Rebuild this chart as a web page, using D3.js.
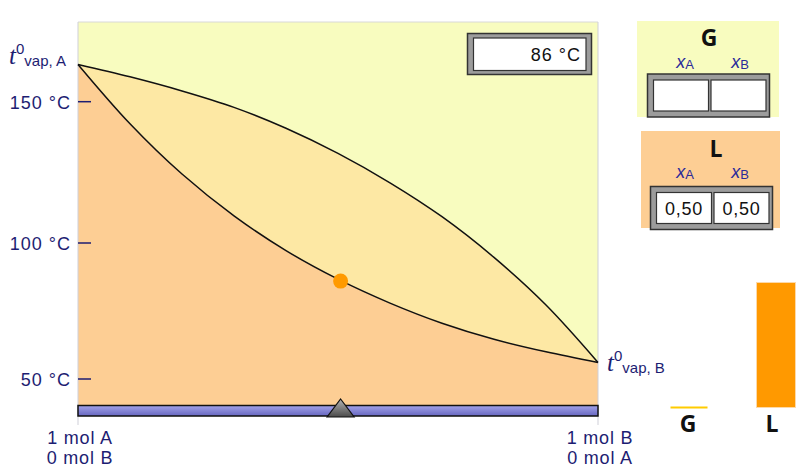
<!DOCTYPE html>
<html><head><meta charset="utf-8">
<script src="https://cdn.jsdelivr.net/npm/d3@7"></script>
<style>
html,body{margin:0;padding:0;background:#fff;}
svg{display:block;font-family:"Liberation Sans",Arial,sans-serif;}
</style></head>
<body>
<svg id="c" width="796" height="470"></svg>
<script>
// ---- data ----
const xB        = [0, 0.1, 0.2, 0.3, 0.4, 0.5, 0.6, 0.7, 0.8, 0.9, 1];
const bubbleT   = [163.2, 142.2, 124.4, 109.6, 97.2, 86.7, 77.9, 70.5, 64.6, 60.0, 56.1];
const dewT      = [163.2, 158.8, 153.8, 148.0, 140.6, 131.7, 121.3, 109.3, 94.7, 77.2, 56.1];
const tempTicks = [50, 100, 150];
const currentT  = 86;
const currentXB = 0.505;
const gasX      = ["", ""];
const liqX      = ["0,50", "0,50"];
const phaseNames   = ["G", "L"];
const phaseAmounts = [0, 1];
const endLabelsA = ["1 mol A", "0 mol B"];
const endLabelsB = ["1 mol B", "0 mol A"];

// ---- layout ----
const svg = d3.select("#c");
const L = 78, R = 598, T = 22, B = 405;
const navy = "#1d1d72";
const x = d3.scaleLinear().domain([0, 1]).range([L, R]);
const y = d3.scaleLinear().domain([50, 100, 150]).range([379, 243, 101.7]);

const defs = svg.append("defs");
const gb = defs.append("linearGradient").attr("id","barG").attr("x1",0).attr("y1",0).attr("x2",0).attr("y2",1);
gb.append("stop").attr("offset","0%").attr("stop-color","#a3a3ea");
gb.append("stop").attr("offset","100%").attr("stop-color","#6767c0");
const gt = defs.append("linearGradient").attr("id","thumbG").attr("x1",0).attr("y1",0).attr("x2",0).attr("y2",1);
gt.append("stop").attr("offset","0%").attr("stop-color","#b5b5b5");
gt.append("stop").attr("offset","100%").attr("stop-color","#4a4a4a");

// background regions
svg.append("rect").attr("x",L).attr("y",T).attr("width",R-L).attr("height",B-T).attr("fill","#f8fcbf");
const pts = xB.map((v,i)=>({x:v, b:bubbleT[i], d:dewT[i]}));
const curve = d3.curveCatmullRom.alpha(0.5);
svg.append("path").datum(pts)
  .attr("d", d3.area().curve(curve).x(d=>x(d.x)).y0(d=>y(d.b)).y1(d=>y(d.d)))
  .attr("fill","#fde8a4");
svg.append("path").datum(pts)
  .attr("d", d3.area().curve(curve).x(d=>x(d.x)).y0(B).y1(d=>y(d.b)))
  .attr("fill","#fdce94");

// frame lines
svg.append("line").attr("x1",L).attr("x2",R).attr("y1",T).attr("y2",T).attr("stroke","#d8d8d8");
svg.append("line").attr("x1",L).attr("x2",L).attr("y1",T).attr("y2",425).attr("stroke","#cfcfd8");
svg.append("line").attr("x1",R).attr("x2",R).attr("y1",T).attr("y2",425).attr("stroke","#cfcfd8");

// curves
svg.append("path").datum(pts).attr("fill","none").attr("stroke","#111").attr("stroke-width",1.5)
  .attr("d", d3.line().curve(curve).x(d=>x(d.x)).y(d=>y(d.b)));
svg.append("path").datum(pts).attr("fill","none").attr("stroke","#111").attr("stroke-width",1.5)
  .attr("d", d3.line().curve(curve).x(d=>x(d.x)).y(d=>y(d.d)));

// y ticks
const yt = svg.append("g");
tempTicks.forEach(t=>{
  yt.append("line").attr("x1",L).attr("x2",L+13).attr("y1",y(t)).attr("y2",y(t)).attr("stroke",navy).attr("stroke-width",1.5);
  yt.append("text").attr("x",L-7).attr("y",y(t)+7).attr("text-anchor","end")
    .attr("font-size",18).attr("letter-spacing",1).attr("fill",navy).text(t+" °C");
});

// t0 labels
function tvap(px, py, comp){
  const t = svg.append("text").attr("x",px).attr("y",py).attr("fill",navy);
  t.append("tspan").attr("font-size",25).attr("font-style","italic").attr("font-family","'Liberation Serif',serif").text("t");
  t.append("tspan").attr("font-size",15).attr("dy",-10).text("0");
  t.append("tspan").attr("font-size",15).attr("dy",12).text("vap, "+comp);
}
tvap(9, 64, "A");
tvap(607, 371, "B");

// current point
svg.append("circle").attr("cx",x(currentXB)).attr("cy",y(currentT)).attr("r",7.5).attr("fill","#ff9a00");

// slider bar
svg.append("rect").attr("x",L).attr("y",B+0.5).attr("width",R-L).attr("height",10.5)
  .attr("fill","url(#barG)").attr("stroke","#111").attr("stroke-width",1.5);
const tx = x(currentXB);
svg.append("path").attr("d",`M${tx},399 L${tx+13.5},417 L${tx-13.5},417 Z`)
  .attr("fill","url(#thumbG)").attr("stroke","#111").attr("stroke-width",1.2);

// end labels
[[0,endLabelsA],[1,endLabelsB]].forEach(([v,labs])=>{
  labs.forEach((s,i)=>{
    svg.append("text").attr("x",x(v)+2).attr("y",444+i*20).attr("text-anchor","middle")
      .attr("font-size",18).attr("letter-spacing",0.8).attr("fill",navy).text(s);
  });
});

// temperature display
svg.append("rect").attr("x",467.5).attr("y",33.5).attr("width",124).attr("height",41)
  .attr("fill","#9c9c9c").attr("stroke","#333").attr("stroke-width",1.5);
svg.append("rect").attr("x",473.5).attr("y",38).attr("width",112.5).attr("height",32.5)
  .attr("fill","#fff").attr("stroke","#333").attr("stroke-width",1.2);
svg.append("text").attr("x",581).attr("y",61).attr("text-anchor","end").attr("font-size",18).attr("letter-spacing",1)
  .attr("fill","#111").text(currentT+" °C");

// composition panels
function panel(bx, by, bw, bh, col, title, vals, gx, gy, titleY, tcx, subY){
  svg.append("rect").attr("x",bx).attr("y",by).attr("width",bw).attr("height",bh).attr("fill",col);
  svg.append("text").attr("x",tcx).attr("y",titleY).attr("text-anchor","middle")
    .attr("font-family","'Open Sans',sans-serif").attr("font-weight","bold").attr("font-size",23).attr("fill","#111").text(title);
  ["A","B"].forEach((c,i)=>{
    const t = svg.append("text").attr("x",[685,740][i]).attr("y",subY).attr("text-anchor","middle").attr("fill","#2a2a9a");
    t.append("tspan").attr("font-size",18).attr("font-style","italic").text("x");
    t.append("tspan").attr("font-size",13).attr("dy",1).text(c);
  });
  svg.append("rect").attr("x",gx).attr("y",gy).attr("width",122).attr("height",43)
    .attr("fill","#9c9c9c").attr("stroke","#333").attr("stroke-width",1.5);
  [0,1].forEach(i=>{
    const cx = gx+6+i*57.5;
    svg.append("rect").attr("x",cx).attr("y",gy+6).attr("width",55).attr("height",31)
      .attr("fill","#fff").attr("stroke","#333").attr("stroke-width",1.2);
    svg.append("text").attr("x",cx+27.5).attr("y",gy+28).attr("text-anchor","middle")
      .attr("font-size",18).attr("letter-spacing",0.8).attr("fill","#111").text(vals[i]);
  });
}
panel(637, 21, 142, 96, "#f8fcbf", "G", gasX, 647.5, 74, 46, 709, 68);
panel(641, 131, 139, 97, "#fdce94", "L", liqX, 650.5, 186.5, 157, 716, 178);

// phase amount bars
const amt = d3.scaleLinear().domain([0,1]).range([0,125]);
const bars = [{cx:689, w:37, col:"#ffcc00"},{cx:776, w:39, col:"#ff9900"}];
phaseNames.forEach((n,i)=>{
  const b = bars[i], h = amt(phaseAmounts[i]);
  svg.append("rect").attr("x",b.cx-b.w/2).attr("y",407.5-Math.max(h,1)).attr("width",b.w).attr("height",Math.max(h,2))
    .attr("fill",b.col).attr("stroke", h>0?"#fdd9a8":"none").attr("stroke-width",1);
  svg.append("text").attr("x",i===0?688:772).attr("y",432).attr("text-anchor","middle")
    .attr("font-family","'Open Sans',sans-serif").attr("font-weight","bold").attr("font-size",23).attr("fill","#111").text(n);
});
</script>
</body></html>
